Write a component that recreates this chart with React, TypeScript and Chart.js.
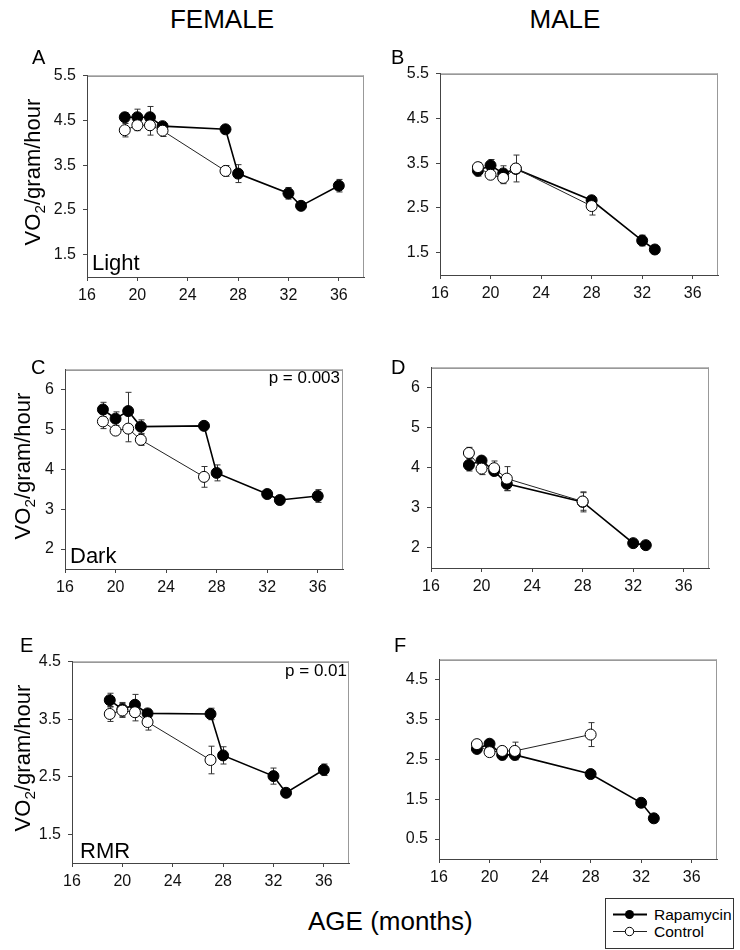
import React, { useEffect, useRef } from "react";
import { Chart, registerables } from "chart.js";

Chart.register(...registerables);

// ---------- DATA ----------
const xTicks = [16, 20, 24, 28, 32, 36];

const femaleRapaAge = [19, 20, 21, 22, 27, 28, 32, 33, 36];
const femaleCtrlAge = [19, 20, 21, 22, 27];
const maleRapaAge = [19, 20, 21, 22, 28, 32, 33];
const maleCtrlAge = [19, 20, 21, 22, 28];

// A: Female, Light
const aRapa = [4.57, 4.57, 4.57, 4.37, 4.30, 3.31, 2.87, 2.59, 3.04];
const aRapaErr = [0.1, 0.18, 0.24, 0.06, 0.06, 0.2, 0.13, 0.05, 0.14];
const aCtrl = [4.28, 4.39, 4.39, 4.27, 3.37];
const aCtrlErr = [0.15, 0.12, 0.22, 0.13, 0.12];

// B: Male, Light
const bRapa = [3.33, 3.45, 3.27, 3.37, 2.67, 1.77, 1.57];
const bRapaErr = [0.12, 0.13, 0.17, 0.1, 0.08, 0.12, 0.04];
const bCtrl = [3.41, 3.24, 3.17, 3.38, 2.54];
const bCtrlErr = [0.1, 0.06, 0.13, 0.3, 0.2];

// C: Female, Dark
const cRapa = [5.5, 5.27, 5.46, 5.07, 5.09, 3.91, 3.38, 3.23, 3.33];
const cRapaErr = [0.18, 0.17, 0.47, 0.17, 0.05, 0.2, 0.1, 0.08, 0.16];
const cCtrl = [5.2, 4.97, 5.02, 4.74, 3.81];
const cCtrlErr = [0.18, 0.06, 0.33, 0.14, 0.26];

// D: Male, Dark
const dRapa = [4.07, 4.18, 3.92, 3.6, 3.15, 2.12, 2.07];
const dRapaErr = [0.15, 0.08, 0.1, 0.17, 0.25, 0.06, 0.04];
const dCtrl = [4.37, 3.98, 3.99, 3.73, 3.16];
const dCtrlErr = [0.14, 0.15, 0.18, 0.3, 0.22];

// E: Female, RMR
const eRapa = [3.83, 3.67, 3.75, 3.6, 3.59, 2.87, 2.51, 2.22, 2.62];
const eRapaErr = [0.12, 0.12, 0.18, 0.07, 0.1, 0.15, 0.14, 0.03, 0.1];
const eCtrl = [3.59, 3.65, 3.62, 3.45, 2.79];
const eCtrlErr = [0.13, 0.12, 0.15, 0.14, 0.24];

// F: Male, RMR
const fRapa = [2.76, 2.89, 2.61, 2.61, 2.13, 1.41, 1.02];
const fRapaErr = [0.05, 0.04, 0.12, 0.12, 0.06, 0.05, 0.03];
const fCtrl = [2.88, 2.68, 2.71, 2.71, 3.12];
const fCtrlErr = [0.04, 0.04, 0.1, 0.22, 0.3];

const yTicksLight = [1.5, 2.5, 3.5, 4.5, 5.5];
const yTicksDark = [2, 3, 4, 5, 6];
const yTicksRmrF = [1.5, 2.5, 3.5, 4.5];
const yTicksRmrM = [0.5, 1.5, 2.5, 3.5, 4.5];

const seriesNames = ["Rapamycin", "Control"];

// ---------- STYLE ----------
const FONT = '"Liberation Sans", Arial, Helvetica, sans-serif';
const Y_AXIS_W = 60;
const X_AXIS_H = 35;
const PAD_T = 12;
const PAD_R = 12;

const errorBarsPlugin = {
  id: "errorBars",
  beforeDatasetsDraw(chart: any) {
    const { ctx } = chart;
    const xs = chart.scales.x;
    const ys = chart.scales.y;
    ctx.save();
    ctx.strokeStyle = "#333";
    ctx.lineWidth = 1;
    chart.data.datasets.forEach((ds: any) => {
      if (!ds.errs) return;
      ds.data.forEach((p: any, i: number) => {
        const e = ds.errs[i];
        if (!e) return;
        const px = Math.round(xs.getPixelForValue(p.x)) + 0.5;
        const y1 = ys.getPixelForValue(p.y + e);
        const y2 = ys.getPixelForValue(p.y - e);
        ctx.beginPath();
        ctx.moveTo(px, y1);
        ctx.lineTo(px, y2);
        ctx.moveTo(px - 3, y1);
        ctx.lineTo(px + 3, y1);
        ctx.moveTo(px - 3, y2);
        ctx.lineTo(px + 3, y2);
        ctx.stroke();
      });
    });
    ctx.restore();
  },
};

const framePlugin = {
  id: "frame",
  beforeDatasetsDraw(chart: any) {
    const { ctx, chartArea: a } = chart;
    ctx.save();
    ctx.lineWidth = 1;
    ctx.strokeStyle = "#555";
    ctx.beginPath();
    ctx.moveTo(a.left, a.top + 0.5);
    ctx.lineTo(a.right, a.top + 0.5);
    ctx.stroke();
    ctx.strokeStyle = "#999";
    ctx.beginPath();
    ctx.moveTo(a.right - 0.5, a.top);
    ctx.lineTo(a.right - 0.5, a.bottom);
    ctx.stroke();
    ctx.restore();
  },
};

type PanelProps = {
  left: number;
  top: number;
  w: number;
  h: number;
  yMin: number;
  yMax: number;
  yTicks: number[];
  rapaAge: number[];
  rapa: number[];
  rapaErr: number[];
  ctrlAge: number[];
  ctrl: number[];
  ctrlErr: number[];
};

function Panel(props: PanelProps) {
  const ref = useRef<HTMLCanvasElement | null>(null);
  const cw = Y_AXIS_W + props.w + PAD_R;
  const ch = PAD_T + props.h + X_AXIS_H;

  useEffect(() => {
    if (!ref.current) return;
    const toPts = (xs: number[], ys: number[]) => xs.map((x, i) => ({ x, y: ys[i] }));
    const chart = new Chart(ref.current, {
      type: "line",
      data: {
        datasets: [
          {
            label: seriesNames[0],
            data: toPts(props.rapaAge, props.rapa),
            errs: props.rapaErr,
            borderColor: "#000",
            borderWidth: 1.6,
            pointRadius: 5.5,
            pointBackgroundColor: "#000",
            pointBorderColor: "#000",
            pointBorderWidth: 1,
            order: 1,
          } as any,
          {
            label: seriesNames[1],
            data: toPts(props.ctrlAge, props.ctrl),
            errs: props.ctrlErr,
            borderColor: "#222",
            borderWidth: 1,
            pointRadius: 5.5,
            pointBackgroundColor: "#fff",
            pointBorderColor: "#000",
            pointBorderWidth: 1,
            order: 0,
          } as any,
        ],
      },
      options: {
        animation: false,
        responsive: false,
        devicePixelRatio: 1,
        layout: { padding: { top: PAD_T, right: PAD_R, left: 0, bottom: 0 } },
        plugins: { legend: { display: false }, tooltip: { enabled: false } },
        scales: {
          x: {
            type: "linear",
            min: 16,
            max: 38,
            bounds: "data",
            afterFit: (s: any) => {
              s.height = X_AXIS_H;
            },
            afterBuildTicks: (s: any) => {
              s.ticks = xTicks.map((v) => ({ value: v }));
            },
            ticks: {
              autoSkip: false,
              maxRotation: 0,
              padding: 5,
              color: "#111",
              font: { family: FONT, size: 16 },
              callback: (v: any) => String(v),
            },
            grid: { drawOnChartArea: false, tickLength: 4, color: "#444" },
            border: { color: "#444", width: 1 },
          },
          y: {
            type: "linear",
            min: props.yMin,
            max: props.yMax,
            bounds: "data",
            afterFit: (s: any) => {
              s.width = Y_AXIS_W;
            },
            afterBuildTicks: (s: any) => {
              s.ticks = props.yTicks.map((v) => ({ value: v }));
            },
            ticks: {
              autoSkip: false,
              padding: 7,
              color: "#111",
              font: { family: FONT, size: 16 },
              callback: (v: any) => String(v),
            },
            grid: { drawOnChartArea: false, tickLength: 4, color: "#444" },
            border: { color: "#444", width: 1 },
          },
        },
      } as any,
      plugins: [framePlugin, errorBarsPlugin],
    });
    return () => chart.destroy();
  }, []);

  return (
    <div
      style={{
        position: "absolute",
        left: props.left - Y_AXIS_W,
        top: props.top - PAD_T,
        width: cw,
        height: ch,
      }}
    >
      <canvas ref={ref} width={cw} height={ch} style={{ display: "block" }} />
    </div>
  );
}

function Txt(p: { x: number; base: number; size: number; align?: string; children: any }) {
  const tf = p.align === "center" ? "translateX(-50%)" : p.align === "right" ? "translateX(-100%)" : undefined;
  return (
    <div
      style={{
        position: "absolute",
        left: p.x,
        top: p.base - 0.8465 * p.size,
        fontSize: p.size,
        lineHeight: `${p.size}px`,
        fontFamily: FONT,
        whiteSpace: "nowrap",
        color: "#000",
        transform: tf,
      }}
    >
      {p.children}
    </div>
  );
}

function YTitle(p: { cx: number; cy: number }) {
  return (
    <div
      style={{
        position: "absolute",
        left: p.cx,
        top: p.cy,
        fontSize: 22,
        lineHeight: "22px",
        fontFamily: FONT,
        whiteSpace: "nowrap",
        transform: "translate(-50%, -50%) rotate(-90deg)",
        color: "#000",
      }}
    >
      VO
      <sub style={{ fontSize: "0.7em", lineHeight: 0, verticalAlign: "-0.3em" }}>2</sub>
      /gram/hour
    </div>
  );
}

export default function App() {
  return (
    <div
      style={{
        position: "absolute",
        left: 0,
        top: 0,
        width: 740,
        height: 950,
        background: "#fff",
        overflow: "hidden",
        fontFamily: FONT,
      }}
    >
      <Txt x={222} base={28.5} size={26} align="center">FEMALE</Txt>
      <Txt x={565} base={28.5} size={26} align="center">MALE</Txt>

      <Panel left={87} top={71} w={277} h={206} yMin={1} yMax={5.5} yTicks={yTicksLight}
        rapaAge={femaleRapaAge} rapa={aRapa} rapaErr={aRapaErr}
        ctrlAge={femaleCtrlAge} ctrl={aCtrl} ctrlErr={aCtrlErr} />
      <Panel left={440} top={69} w={278} h={206} yMin={1} yMax={5.5} yTicks={yTicksLight}
        rapaAge={maleRapaAge} rapa={bRapa} rapaErr={bRapaErr}
        ctrlAge={maleCtrlAge} ctrl={bCtrl} ctrlErr={bCtrlErr} />
      <Panel left={65} top={365} w={278} h={204} yMin={1.5} yMax={6.5} yTicks={yTicksDark}
        rapaAge={femaleRapaAge} rapa={cRapa} rapaErr={cRapaErr}
        ctrlAge={femaleCtrlAge} ctrl={cCtrl} ctrlErr={cCtrlErr} />
      <Panel left={431} top={363} w={278} h={205} yMin={1.5} yMax={6.5} yTicks={yTicksDark}
        rapaAge={maleRapaAge} rapa={dRapa} rapaErr={dRapaErr}
        ctrlAge={maleCtrlAge} ctrl={dCtrl} ctrlErr={dCtrlErr} />
      <Panel left={72} top={657} w={277} h={206} yMin={1} yMax={4.5} yTicks={yTicksRmrF}
        rapaAge={femaleRapaAge} rapa={eRapa} rapaErr={eRapaErr}
        ctrlAge={femaleCtrlAge} ctrl={eCtrl} ctrlErr={eCtrlErr} />
      <Panel left={439} top={655} w={278} h={204} yMin={0} yMax={5} yTicks={yTicksRmrM}
        rapaAge={maleRapaAge} rapa={fRapa} rapaErr={fRapaErr}
        ctrlAge={maleCtrlAge} ctrl={fCtrl} ctrlErr={fCtrlErr} />

      <Txt x={32} base={64} size={20}>A</Txt>
      <Txt x={391} base={64} size={20}>B</Txt>
      <Txt x={31} base={374} size={20}>C</Txt>
      <Txt x={391} base={374} size={20}>D</Txt>
      <Txt x={20} base={652} size={20}>E</Txt>
      <Txt x={394} base={652} size={20}>F</Txt>

      <YTitle cx={32.5} cy={172} />
      <YTitle cx={23} cy={466} />
      <YTitle cx={23} cy={758} />

      <Txt x={92} base={271} size={22}>Light</Txt>
      <Txt x={70} base={563.5} size={22}>Dark</Txt>
      <Txt x={80} base={858.5} size={22}>RMR</Txt>

      <Txt x={340} base={383} size={17} align="right">p = 0.003</Txt>
      <Txt x={347} base={676} size={17} align="right">p = 0.01</Txt>

      <Txt x={308} base={930.5} size={26}>AGE (months)</Txt>

      <div
        style={{
          position: "absolute",
          left: 605,
          top: 898,
          width: 127,
          height: 49,
          border: "1px solid #333",
          background: "#fff",
        }}
      />
      <svg
        width={50}
        height={40}
        style={{ position: "absolute", left: 605, top: 898 }}
      >
        <line x1={8} y1={16.5} x2={42} y2={16.5} stroke="#000" strokeWidth={2} />
        <circle cx={24.5} cy={16.5} r={4.5} fill="#000" />
        <line x1={8} y1={33.5} x2={42} y2={33.5} stroke="#222" strokeWidth={1} />
        <circle cx={24.5} cy={33.5} r={4.2} fill="#fff" stroke="#000" strokeWidth={1} />
      </svg>
      <Txt x={654} base={920} size={15.5}>{seriesNames[0]}</Txt>
      <Txt x={654} base={937.5} size={15.5}>{seriesNames[1]}</Txt>
    </div>
  );
}
